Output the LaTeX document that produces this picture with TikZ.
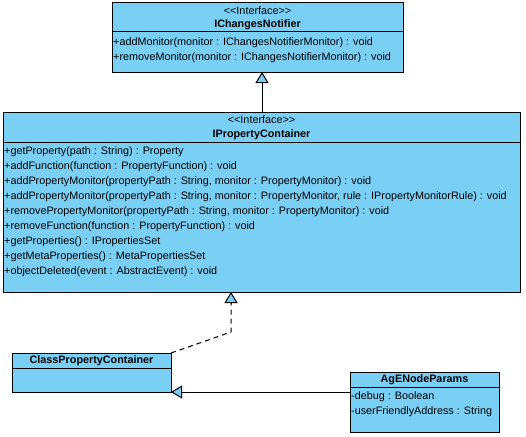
\documentclass[tikz,border=0pt]{standalone}
\usepackage{fontspec}
\setmainfont{Liberation Sans}
\usetikzlibrary{arrows.meta}
\definecolor{umlfill}{RGB}{122,207,245}
\newcommand{\stereo}[1]{<\kern0pt<#1>\kern0pt>}
\begin{document}
\begin{tikzpicture}[x=1pt,y=-1pt,
  box/.style={draw=black, fill=umlfill, line width=1pt, inner sep=0pt, outer sep=0pt, anchor=north west},
  txt/.style={font=\fontsize{10.8}{12}\selectfont, inner sep=0pt, anchor=west},
  ctxt/.style={font=\fontsize{10.8}{12}\selectfont, inner sep=0pt, anchor=center},
  btxt/.style={font=\fontsize{10.8}{12}\selectfont\bfseries, inner sep=0pt, anchor=center},
  sep/.style={draw=black, line width=1pt},
  conn/.style={draw=black, line width=1pt},
  tri/.style={-{Triangle[fill=umlfill, length=11pt, width=13pt, line width=1pt]}}
]
\useasboundingbox (0,0) rectangle (526,436);

% IChangesNotifier
\node[box, minimum width=291pt, minimum height=69pt] (icn) at (112,3) {};
\draw[sep] (112,32) -- (403,32);
\node[ctxt] (icnst) at (257.5,11) {\stereo{Interface}};
\node[btxt] (icnname) at (257.5,25) {IChangesNotifier};
\node[txt] (icnm1) at (113,43) {+addMonitor(monitor : IChangesNotifierMonitor) : void};
\node[txt] (icnm2) at (113,58) {+removeMonitor(monitor : IChangesNotifierMonitor) : void};

% IPropertyContainer
\node[box, minimum width=517pt, minimum height=180pt] (ipc) at (3,112) {};
\draw[sep] (3,142) -- (520,142);
\node[ctxt] (ipcst) at (261.5,120) {\stereo{Interface}};
\node[btxt] (ipcname) at (261.5,135) {IPropertyContainer};
\node[txt] (m1) at (4,152) {+getProperty(path : String) : Property};
\node[txt] (m2) at (4,167) {+addFunction(function : PropertyFunction) : void};
\node[txt] (m3) at (4,182) {+addPropertyMonitor(propertyPath : String, monitor : PropertyMonitor) : void};
\node[txt] (m4) at (4,197) {+addPropertyMonitor(propertyPath : String, monitor : PropertyMonitor, rule : IPropertyMonitorRule) : void};
\node[txt] (m5) at (4,212) {+removePropertyMonitor(propertyPath : String, monitor : PropertyMonitor) : void};
\node[txt] (m6) at (4,227) {+removeFunction(function : PropertyFunction) : void};
\node[txt] (m7) at (4,242) {+getProperties() : IPropertiesSet};
\node[txt] (m8) at (4,257) {+getMetaProperties() : MetaPropertiesSet};
\node[txt] (m9) at (4,272) {+objectDeleted(event : AbstractEvent) : void};

% ClassPropertyContainer
\node[box, minimum width=159pt, minimum height=39pt] (cpc) at (12,353) {};
\draw[sep] (12,368) -- (171,368);
\node[btxt] (cpcname) at (91.5,360.5) {ClassPropertyContainer};

% AgENodeParams
\node[box, minimum width=149pt, minimum height=60pt] (agn) at (350,372) {};
\draw[sep] (350,387) -- (499,387);
\node[btxt] (agnname) at (424.5,380) {AgENodeParams};
\node[txt] (a1) at (351,397) {-debug : Boolean};
\node[txt] (a2) at (351,412) {-userFriendlyAddress : String};

% connectors
\draw[conn, tri] (ipc.north -| 262,0) -- (icn.south -| 262,0);
\coordinate (bend) at (231,332);
\draw[conn, dash pattern=on 5pt off 4pt] (cpc.north east) -- (bend) -- ([yshift=-11pt]bend |- ipc.south);
\draw[conn, tri] ([yshift=-11.5pt]bend |- ipc.south) -- (bend |- ipc.south);
\draw[conn, tri] (agn.west |- cpc.south east) -- (cpc.south east);
\end{tikzpicture}
\end{document}
